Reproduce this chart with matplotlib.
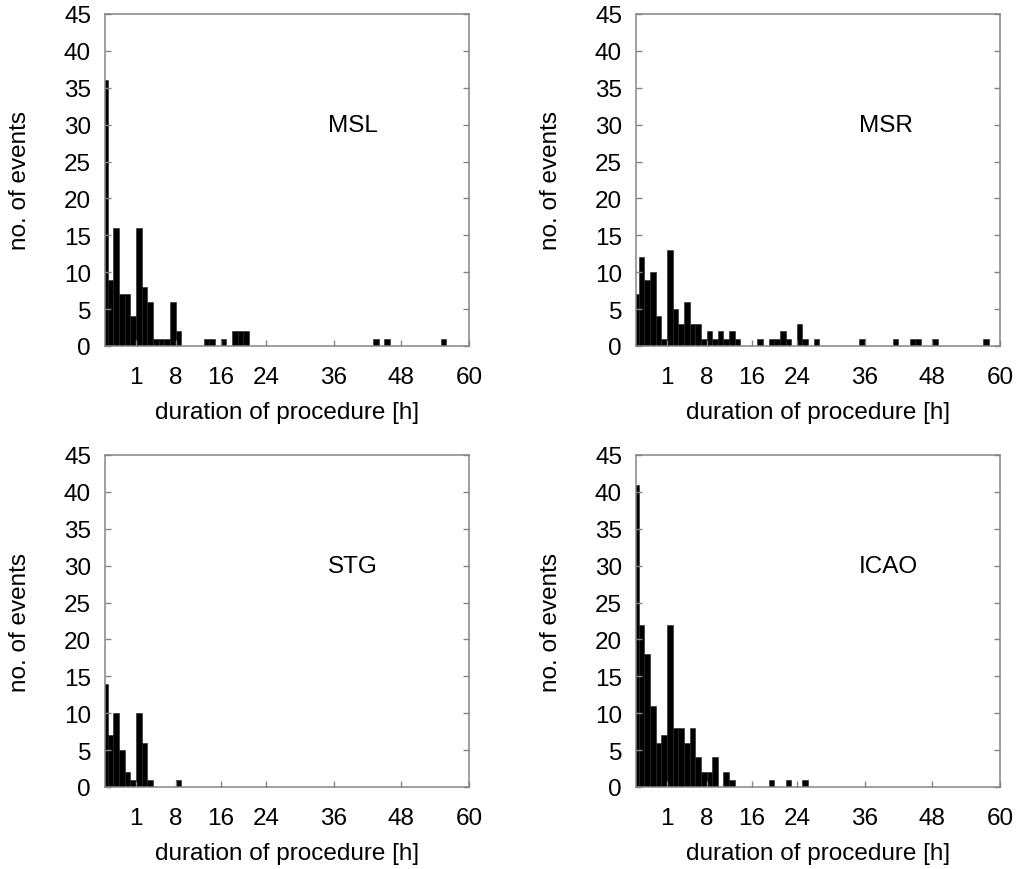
import matplotlib
matplotlib.use("Agg")
import matplotlib.pyplot as plt

plt.rcParams['font.family'] = ['Liberation Sans', 'DejaVu Sans']

# bin left edges (1 unit per bin, first bin clipped by axis)
msl_bins = [-5, -4, -3, -2, -1, 0, 1, 2, 3, 4, 5, 6, 7, 8, 13, 14, 16, 18, 19, 20, 43, 45, 55]
msl_counts = [36, 9, 16, 7, 7, 4, 16, 8, 6, 1, 1, 1, 6, 2, 1, 1, 1, 2, 2, 2, 1, 1, 1]

msr_bins = [-5, -4, -3, -2, -1, 0, 1, 2, 3, 4, 5, 6, 7, 8, 9, 10, 11, 12, 13,
            17, 19, 20, 21, 22, 24, 25, 27, 35, 41, 44, 45, 48, 57]
msr_counts = [7, 12, 9, 10, 4, 1, 13, 5, 3, 6, 3, 3, 1, 2, 1, 2, 1, 2, 1,
              1, 1, 1, 2, 1, 3, 1, 1, 1, 1, 1, 1, 1, 1]

stg_bins = [-5, -4, -3, -2, -1, 0, 1, 2, 3, 8]
stg_counts = [14, 7, 10, 5, 2, 1, 10, 6, 1, 1]

icao_bins = [-5, -4, -3, -2, -1, 0, 1, 2, 3, 4, 5, 6, 7, 8, 9, 11, 12, 19, 22, 25]
icao_counts = [41, 22, 18, 11, 6, 7, 22, 8, 8, 6, 8, 4, 2, 2, 4, 2, 1, 1, 1, 1]

x_ticks = [1, 8, 16, 24, 36, 48, 60]
x_ticklabels = ['1', '8', '16', '24', '36', '48', '60']
y_ticks = list(range(0, 46, 5))

panels = [
    ("MSL", msl_bins, msl_counts, (105, 15)),
    ("MSR", msr_bins, msr_counts, (636, 15)),
    ("STG", stg_bins, stg_counts, (105, 456)),
    ("ICAO", icao_bins, icao_counts, (636, 456)),
]

W, H = 1016, 870
fig = plt.figure(figsize=(W / 100, H / 100), dpi=100)
aw, ah = 364, 332
spine_col = '#858585'
fs = 17.5

for name, bins, counts, (lx, ty) in panels:
    ax = fig.add_axes([lx / W, (H - ty - ah) / H, aw / W, ah / H])
    ax.bar(bins, counts, width=1.0, align='edge', color='black',
           edgecolor='#222222', linewidth=0.4)
    ax.set_xlim(-4.5, 60)
    ax.set_ylim(0, 45)
    ax.set_xticks(x_ticks)
    ax.set_xticklabels(x_ticklabels)
    ax.set_yticks(y_ticks)
    ax.tick_params(axis='x', direction='in', length=4.5, width=1.0,
                   color=spine_col, labelsize=fs, pad=14.5, top=False)
    ax.tick_params(axis='y', direction='in', length=4.5, width=1.0,
                   color=spine_col, labelsize=fs, pad=10, right=True)
    for s in ax.spines.values():
        s.set_color(spine_col)
        s.set_linewidth(1.1)
    ax.set_ylabel("no. of events", fontsize=fs)
    ax.yaxis.set_label_coords(-0.203, 0.5)
    ax.set_xlabel("duration of procedure [h]", fontsize=fs, va='top')
    ax.xaxis.set_label_coords(0.5, -0.166)
    ax.text(35, 30, name, fontsize=fs, ha='left', va='center')

fig.savefig("out.png", dpi=100)
